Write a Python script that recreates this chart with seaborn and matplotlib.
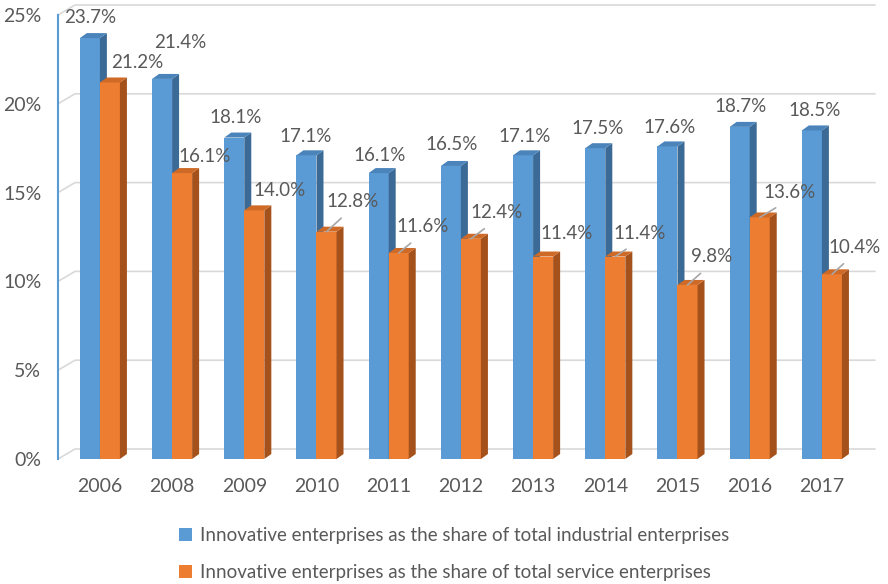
import matplotlib
matplotlib.use("Agg")
import matplotlib.pyplot as plt
import matplotlib.patches as mpatches
from matplotlib.patches import Polygon
import seaborn as sns
import pandas as pd
import numpy as np

years = ["2006", "2008", "2009", "2010", "2011", "2012", "2013", "2014", "2015", "2016", "2017"]
industrial = [23.7, 21.4, 18.1, 17.1, 16.1, 16.5, 17.1, 17.5, 17.6, 18.7, 18.5]
service = [21.2, 16.1, 14.0, 12.8, 11.6, 12.4, 11.4, 11.4, 9.8, 13.6, 10.4]
series_names = ["Innovative enterprises as the share of total industrial enterprises",
                "Innovative enterprises as the share of total service enterprises"]
yticks = [0, 5, 10, 15, 20, 25]
leader_service = [False, False, False, True, True, True, False, True, True, True, True]

colors = ["#5B9BD5", "#ED7D31"]
side_colors = ["#3C6A96", "#A5511B"]
top_colors = ["#4B84BA", "#CF6A26"]
text_color = "#595959"
FONT = "Lato"
FS = 13.5

sns.set_theme(style="white")
plt.rcParams["font.family"] = [FONT, "DejaVu Sans"]

df = pd.DataFrame({
    "year": years * 2,
    "value": industrial + service,
    "series": [series_names[0]] * len(years) + [series_names[1]] * len(years),
})

fig = plt.figure(figsize=(8.88, 5.84), dpi=100)
ax = fig.add_axes([58 / 888, 125 / 584, 800 / 888, 444 / 584])

sns.barplot(data=df, x="year", y="value", hue="series", order=years,
            hue_order=series_names, palette=colors, width=0.555, ax=ax,
            legend=False, saturation=1, linewidth=0, edgecolor="none", zorder=3)

ax.set_xlim(-0.58, 10.5)
ax.set_ylim(0, 25)
ax.set_yticks(yticks)
ax.set_yticklabels([f"{t}%" for t in yticks])
ax.set_xlabel("")
ax.set_ylabel("")
ax.tick_params(axis="both", length=0, colors=text_color, labelsize=14)
ax.tick_params(axis="y", pad=12)
ax.tick_params(axis="x", pad=14)
for s in ["top", "right", "bottom"]:
    ax.spines[s].set_visible(False)
ax.spines["left"].set_color("#5B9BD5")
ax.spines["left"].set_linewidth(1.5)
ax.grid(False)

fig.canvas.draw()
T = ax.transData
Ti = T.inverted()

def shift(x, y, dx, dy):
    px, py = T.transform((x, y))
    return Ti.transform((px + dx, py + dy))

# back wall gridlines and floor
x0, x1 = ax.get_xlim()
bdx, bdy = 17, 10
for v in yticks:
    p_front = (x0, v)
    p_back = shift(x0, v, bdx, bdy)
    p_end = shift(x1, v, bdx, bdy)
    ax.plot([p_front[0], p_back[0], p_end[0]], [p_front[1], p_back[1], p_end[1]],
            color="#D9D9D9", lw=1.2, clip_on=False, zorder=1)

# 3D faces on bars
ddx, ddy = 7, 5
for ci, cont in enumerate(ax.containers):
    for bar in cont:
        bx = bar.get_x()
        bw = bar.get_width()
        h = bar.get_height()
        xa, xb = bx, bx + bw
        side = [(xb, 0), (xb, h), tuple(shift(xb, h, ddx, ddy)), tuple(shift(xb, 0, ddx, ddy))]
        top = [(xa, h), (xb, h), tuple(shift(xb, h, ddx, ddy)), tuple(shift(xa, h, ddx, ddy))]
        z = 3 + ci * 2
        bar.set_zorder(z)
        ax.add_patch(Polygon(side, closed=True, facecolor=side_colors[ci], edgecolor="none",
                             zorder=z + 0.5, clip_on=False))
        ax.add_patch(Polygon(top, closed=True, facecolor=top_colors[ci], edgecolor="none",
                             zorder=z + 0.5, clip_on=False))

# data labels
blue_offsets = [(0, 21), (18, 36), (1, 20), (-1, 19), (1, 18), (1, 21),
                (2, 19), (2, 20), (2, 19), (1, 20), (3, 20)]
orange_offsets = [(27, 20), (23, 17), (25, 20), (26, 30), (24, 26), (26, 26),
                  (24, 23), (24, 23), (24, 28), (30, 25), (23, 27)]
for i, bar in enumerate(ax.containers[0]):
    cx = bar.get_x() + bar.get_width() / 2
    ax.annotate(f"{industrial[i]:.1f}%", xy=(cx, bar.get_height()), xytext=blue_offsets[i],
                textcoords="offset pixels", ha="center", va="center",
                fontsize=FS, color=text_color, zorder=10, annotation_clip=False)
for i, bar in enumerate(ax.containers[1]):
    cx = bar.get_x() + bar.get_width() / 2
    h = bar.get_height()
    kw = {}
    if leader_service[i]:
        kw["arrowprops"] = dict(arrowstyle="-", color="#A6A6A6", lw=1.2,
                                relpos=(0.45, 0.0), shrinkA=5, shrinkB=0)
    ax.annotate(f"{service[i]:.1f}%", xy=(cx, h), xytext=orange_offsets[i],
                textcoords="offset pixels", ha="center", va="center",
                fontsize=FS, color=text_color, zorder=10, annotation_clip=False, **kw)

handles = [mpatches.Patch(facecolor=c, edgecolor="none") for c in colors]
fig.legend(handles, series_names, loc="center left", bbox_to_anchor=(162 / 888, 1 - 554 / 584),
           frameon=False, ncol=1, fontsize=FS, labelcolor=text_color,
           handlelength=0.7, handleheight=0.7, handletextpad=0.4, labelspacing=1.1)

fig.savefig("out.png", dpi=100)
